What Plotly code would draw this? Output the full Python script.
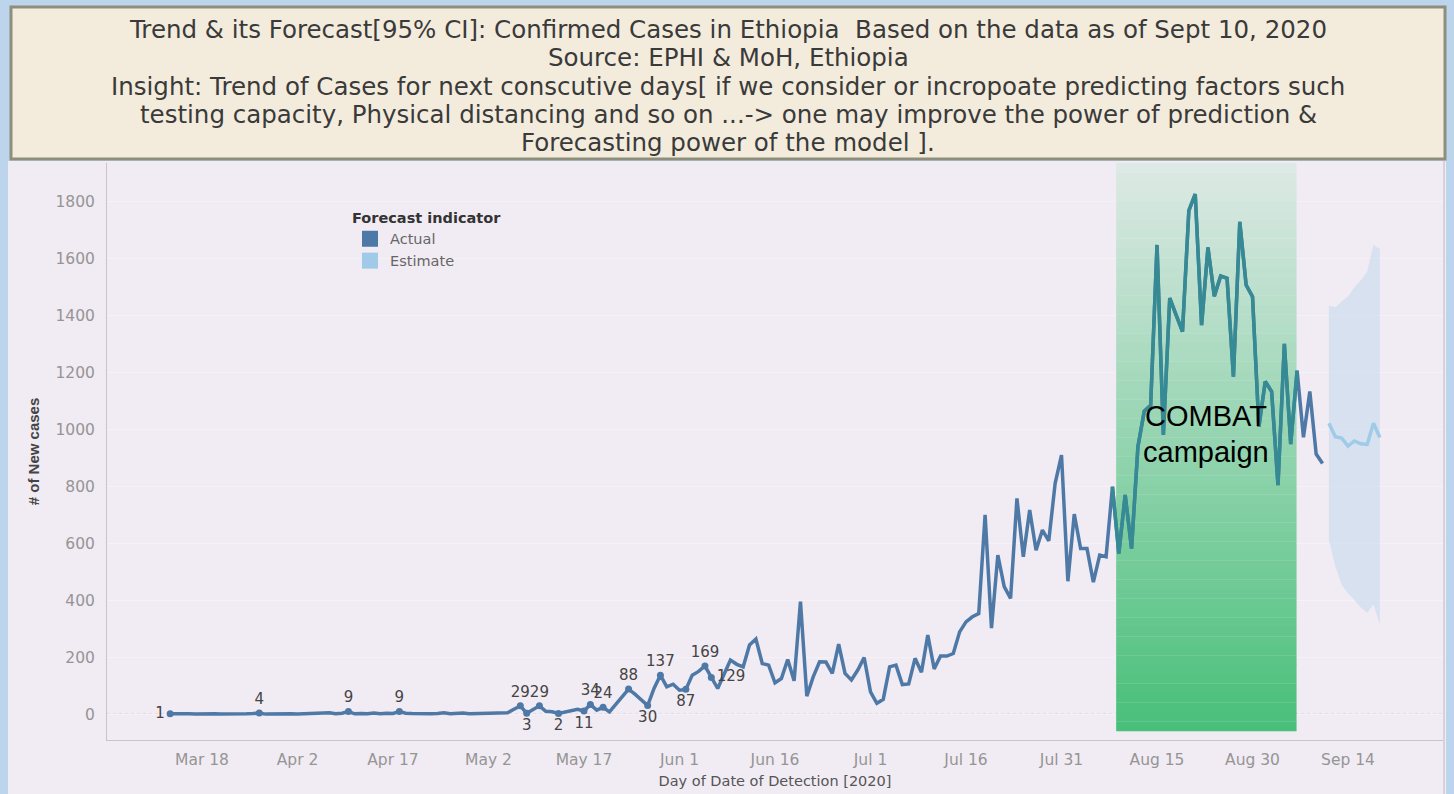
import pandas as pd
import plotly.graph_objects as go

# ---------------- data ----------------
start_date = "2020-03-13"
actual_cases = [
    1, 2, 3, 1, 0, 1, 3, 1, 0, 1,
    2, 1, 1, 2, 4, 0, 1, 1, 2, 1,
    0, 1, 2, 1, 2, 5, 1, 3, 9, 1,
    2, 1, 4, 1, 3, 2, 9, 3, 2, 1,
    0, 1, 2, 5, 1, 2, 4, 1, 2, 3,
    1, 3, 4, 5, 17, 29, 3, 15, 29, 10,
    8, 2, 8, 14, 17, 11, 34, 14, 24, 8,
    35, 62, 88, 70, 50, 30, 90, 137, 96, 105,
    84, 87, 137, 150, 169, 129, 90, 140, 190, 175,
    166, 243, 264, 178, 172, 110, 125, 192, 117, 395,
    63, 131, 184, 183, 143, 246, 143, 120, 155, 199,
    78, 38, 52, 166, 172, 104, 106, 196, 147, 278,
    159, 204, 204, 213, 289, 324, 342, 353, 700, 302,
    559, 448, 407, 758, 553, 717, 576, 647, 609, 811,
    910, 467, 703, 582, 582, 464, 559, 553, 799, 564,
    770, 582, 940, 1065, 1085, 1649, 981, 1462, 1402, 1344,
    1770, 1828, 1367, 1640, 1469, 1540, 1532, 1186, 1730, 1508,
    1467, 1010, 1169, 1134, 805, 1301, 949, 1207, 973, 1134,
    914, 881,
]
forecast_start = "2020-09-11"
estimate_cases = [1022, 975, 970, 942, 960, 950, 948, 1022, 972]
estimate_upper = [1435, 1430, 1450, 1468, 1500, 1525, 1555, 1650, 1635]
estimate_lower = [612, 520, 455, 425, 400, 375, 355, 385, 315]

label_index = [0, 14, 28, 36, 55, 56, 58, 61, 65, 66, 68, 72, 75, 77, 81, 84, 85]
label_position = ["middle left", "top center", "top center", "top center", "top center",
                  "bottom center", "top center", "bottom center", "bottom center", "top center",
                  "top center", "top center", "bottom center", "top center", "bottom center",
                  "top center", "middle right"]

campaign_first_idx = 148
campaign_last_idx = 177
campaign_x0 = "2020-08-08 14:00"
campaign_x1 = "2020-09-05 22:00"
campaign_y0 = -60

tick_dates = ["2020-03-18", "2020-04-02", "2020-04-17", "2020-05-02", "2020-05-17",
              "2020-06-01", "2020-06-16", "2020-07-01", "2020-07-16", "2020-07-31",
              "2020-08-15", "2020-08-30", "2020-09-14"]
tick_labels = ["Mar 18", "Apr 2", "Apr 17", "May 2", "May 17", "Jun 1", "Jun 16",
               "Jul 1", "Jul 16", "Jul 31", "Aug 15", "Aug 30", "Sep 14"]
y_ticks = [0, 200, 400, 600, 800, 1000, 1200, 1400, 1600, 1800]

title_lines = [
    "Trend & its Forecast[95% CI]: Confirmed Cases in Ethiopia  Based on the data as of Sept 10, 2020",
    "Source: EPHI & MoH, Ethiopia",
    "Insight: Trend of Cases for next conscutive days[ if we consider or incropoate predicting factors such",
    "testing capacity, Physical distancing and so on ...-> one may improve the power of prediction &",
    "Forecasting power of the model ].",
]

# ---------------- styling ----------------
ACTUAL = "#4e79a7"
ESTIMATE = "#a0cbe8"
TEAL = "#358a94"
LAVENDER = "#f1ebf3"
BLUE_FRAME = "#bdd5ec"

W, H = 1454, 794
L, R, T, B = 107, 11, 163, 54
PW, PH = W - L - R, H - T - B


def px_x(px):
    return (px - L) / PW


def px_y(py):
    return (H - B - py) / PH


dates = pd.date_range(start_date, periods=len(actual_cases), freq="D")
est_dates = pd.date_range(forecast_start, periods=len(estimate_cases), freq="D")

fig = go.Figure()

# confidence band
fig.add_trace(go.Scatter(x=est_dates, y=estimate_upper, mode="lines",
                         line=dict(width=0, color="rgba(0,0,0,0)"),
                         showlegend=False, hoverinfo="skip"))
fig.add_trace(go.Scatter(x=est_dates, y=estimate_lower, mode="lines",
                         line=dict(width=0, color="rgba(0,0,0,0)"),
                         fill="tonexty", fillcolor="rgba(200,218,238,0.6)",
                         showlegend=False, hoverinfo="skip"))
# estimate
fig.add_trace(go.Scatter(x=est_dates, y=estimate_cases, mode="lines",
                         line=dict(color=ESTIMATE, width=3.5), showlegend=False))
# actual
fig.add_trace(go.Scatter(x=dates, y=actual_cases, mode="lines",
                         line=dict(color=ACTUAL, width=3.5), showlegend=False))
# part inside the campaign window
fig.add_trace(go.Scatter(x=dates[campaign_first_idx:campaign_last_idx + 1],
                         y=actual_cases[campaign_first_idx:campaign_last_idx + 1],
                         mode="lines", line=dict(color=TEAL, width=3.5), showlegend=False))
# labelled points
fig.add_trace(go.Scatter(
    x=[dates[i] for i in label_index],
    y=[actual_cases[i] for i in label_index],
    text=[str(actual_cases[i]) for i in label_index],
    mode="markers+text", textposition=label_position,
    marker=dict(color=ACTUAL, size=7),
    textfont=dict(family="DejaVu Sans", size=15, color="#444444"),
    showlegend=False))

# legend swatches
fig.add_trace(go.Scatter(x=[None], y=[None], mode="markers", name="Actual",
                         marker=dict(symbol="square", size=16, color=ACTUAL)))
fig.add_trace(go.Scatter(x=[None], y=[None], mode="markers", name="Estimate",
                         marker=dict(symbol="square", size=16, color=ESTIMATE)))

shapes = []
# lavender panel and title box
shapes.append(dict(type="rect", xref="paper", yref="paper", x0=px_x(8), x1=px_x(1446),
                   y0=px_y(794), y1=px_y(161), fillcolor=LAVENDER, line=dict(width=0),
                   layer="below"))
shapes.append(dict(type="line", xref="paper", yref="paper", x0=px_x(1444), x1=px_x(1444),
                   y0=px_y(794), y1=px_y(161), line=dict(color="#cfcacf", width=1.5),
                   layer="below"))
shapes.append(dict(type="rect", xref="paper", yref="paper", x0=px_x(11), x1=px_x(1445),
                   y0=px_y(159), y1=px_y(7), fillcolor="#f3ecdc",
                   line=dict(color="#8e8e7c", width=3), layer="below"))
# dotted zero line
shapes.append(dict(type="line", xref="paper", yref="y", x0=0, x1=1, y0=0, y1=0,
                   line=dict(color="#cdc5cd", width=1, dash="dot"), layer="below"))
# campaign gradient
n_bands = 60
top_rgb = (222, 233, 229)
bot_rgb = (72, 191, 121)
y_top = 1937
for k in range(n_bands):
    f0 = k / n_bands
    f1 = (k + 1) / n_bands
    yy0 = campaign_y0 + (y_top - campaign_y0) * f0
    yy1 = campaign_y0 + (y_top - campaign_y0) * f1
    fm = 1 - (f0 + f1) / 2
    c = tuple(round(top_rgb[j] + (bot_rgb[j] - top_rgb[j]) * fm) for j in range(3))
    shapes.append(dict(type="rect", xref="x", yref="y", x0=campaign_x0, x1=campaign_x1,
                       y0=yy0, y1=yy1 + 1, fillcolor="rgb(%d,%d,%d)" % c,
                       line=dict(width=0), layer="between"))

annotations = []
title_centers = [30, 58, 86, 114, 142]
for line_text, yc in zip(title_lines, title_centers):
    annotations.append(dict(xref="paper", yref="paper", x=px_x(728), y=px_y(yc),
                            xanchor="center", yanchor="middle", showarrow=False,
                            text=line_text,
                            font=dict(family="DejaVu Sans", size=24.5, color="#3a3a3a")))
annotations += [
    dict(xref="x", yref="y", x="2020-08-22 16:00", y=(714 - 416) / 0.2845,
         text="COMBAT", showarrow=False, xanchor="center", yanchor="middle",
         font=dict(family="Liberation Sans, Arial", size=29, color="black")),
    dict(xref="x", yref="y", x="2020-08-22 16:00", y=(714 - 452) / 0.2845,
         text="campaign", showarrow=False, xanchor="center", yanchor="middle",
         font=dict(family="Liberation Sans, Arial", size=29, color="black")),
]

fig.update_layout(
    width=W, height=H,
    margin=dict(l=L, r=R, t=T, b=B, pad=0, autoexpand=False),
    paper_bgcolor=BLUE_FRAME, plot_bgcolor=LAVENDER,
    shapes=shapes, annotations=annotations,
    showlegend=True,
    legend=dict(x=px_x(350), y=px_y(204), xanchor="left", yanchor="top",
                bgcolor="rgba(0,0,0,0)", traceorder="normal",
                title=dict(text="<b>Forecast indicator</b>",
                           font=dict(family="DejaVu Sans", size=14.5, color="#333333")),
                font=dict(family="DejaVu Sans", size=14.5, color="#666666"),
                tracegroupgap=0),
    xaxis=dict(type="date", range=["2020-03-03 02:00", "2020-09-28 22:00"],
               tickvals=tick_dates, ticktext=tick_labels, showgrid=False,
               zeroline=False, showline=True, linecolor="#c9c3c9", linewidth=1,
               ticks="outside", ticklen=5, tickcolor="rgba(0,0,0,0)", automargin=False,
               tickfont=dict(family="DejaVu Sans", size=15.5, color="#959595"),
               title=dict(text="Day of Date of Detection [2020]", standoff=8,
                          font=dict(family="DejaVu Sans", size=14.5, color="#555555"))),
    yaxis=dict(range=[-91, 1937], tickvals=y_ticks, showgrid=True, gridcolor="#f6f1f6",
               zeroline=False, showline=True, linecolor="#c9c3c9", linewidth=1,
               ticks="outside", ticklen=8, tickcolor="rgba(0,0,0,0)", automargin=False,
               tickfont=dict(family="DejaVu Sans", size=15.5, color="#959595"),
               title=dict(text="<b># of New cases</b>", standoff=12,
                          font=dict(family="Liberation Sans Narrow, Arial Narrow, sans-serif",
                                    size=15, color="#444444"))),
)

fig.write_html("out.html", config={"displayModeBar": False},
               post_script="document.body.style.margin='0';"
                           "document.body.style.background='#bdd5ec';")
